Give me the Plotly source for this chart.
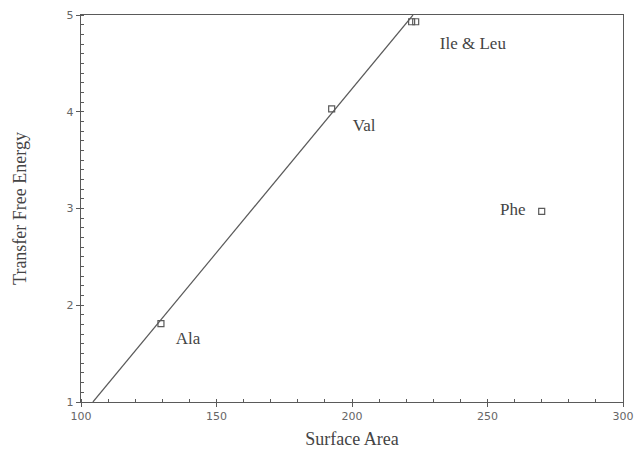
import plotly.graph_objects as go

# Data
amino_acids = ["Ala", "Val", "Ile", "Leu", "Phe"]
surface_area = [129.5, 192.5, 222.0, 223.5, 270.0]
free_energy = [1.81, 4.03, 4.93, 4.93, 2.97]

fit_x = [104.4, 222.5]
fit_y = [1.0, 5.0]

label_text = ["Ala", "Val", "Ile & Leu", "Phe"]
label_x = [139.5, 204.5, 244.6, 259.3]
label_y = [1.64, 3.84, 4.69, 2.98]

gray = "#5a5a5a"
serif = "Liberation Serif, Times New Roman, serif"
sans = "DejaVu Sans, Verdana, sans-serif"

fig = go.Figure()
fig.add_trace(go.Scatter(x=fit_x, y=fit_y, mode="lines",
                         line=dict(color=gray, width=1.2), hoverinfo="skip"))
fig.add_trace(go.Scatter(x=surface_area, y=free_energy, mode="markers",
                         marker=dict(symbol="square-open", size=6,
                                     color=gray, line=dict(width=1.2, color=gray)),
                         text=amino_acids))
fig.add_trace(go.Scatter(x=label_x, y=label_y, mode="text", text=label_text,
                         textfont=dict(family=serif, size=17, color="#444")))

axis_common = dict(
    showline=True, linecolor=gray, linewidth=1.2, mirror=True,
    showgrid=False, zeroline=False, automargin=False,
    ticks="outside", ticklen=4, tickcolor=gray, tickwidth=1,
    tickfont=dict(family=sans, size=11, color="#666"),
)

fig.update_xaxes(range=[100, 300], tickvals=[100, 150, 200, 250, 300],
                 minor=dict(dtick=10, ticks="inside", ticklen=3, tickcolor=gray),
                 title=dict(text="Surface Area", font=dict(family=serif, size=18, color="#444"),
                            standoff=10),
                 **axis_common)
fig.update_yaxes(range=[1, 5], tickvals=[1, 2, 3, 4, 5],
                 minor=dict(dtick=0.1, ticks="inside", ticklen=3, tickcolor=gray),
                 title=dict(text="Transfer Free Energy", font=dict(family=serif, size=18, color="#444"),
                            standoff=35),
                 **axis_common)

fig.update_layout(width=634, height=453, showlegend=False, hovermode=False,
                  margin=dict(l=81, r=11, t=15, b=51),
                  plot_bgcolor="white", paper_bgcolor="white")

fig.write_html(
    "out.html",
    config={"displayModeBar": False, "staticPlot": True},
    post_script="document.body.style.margin='0';"
                "document.documentElement.style.overflow='hidden';"
                "document.body.style.overflow='hidden';",
)
